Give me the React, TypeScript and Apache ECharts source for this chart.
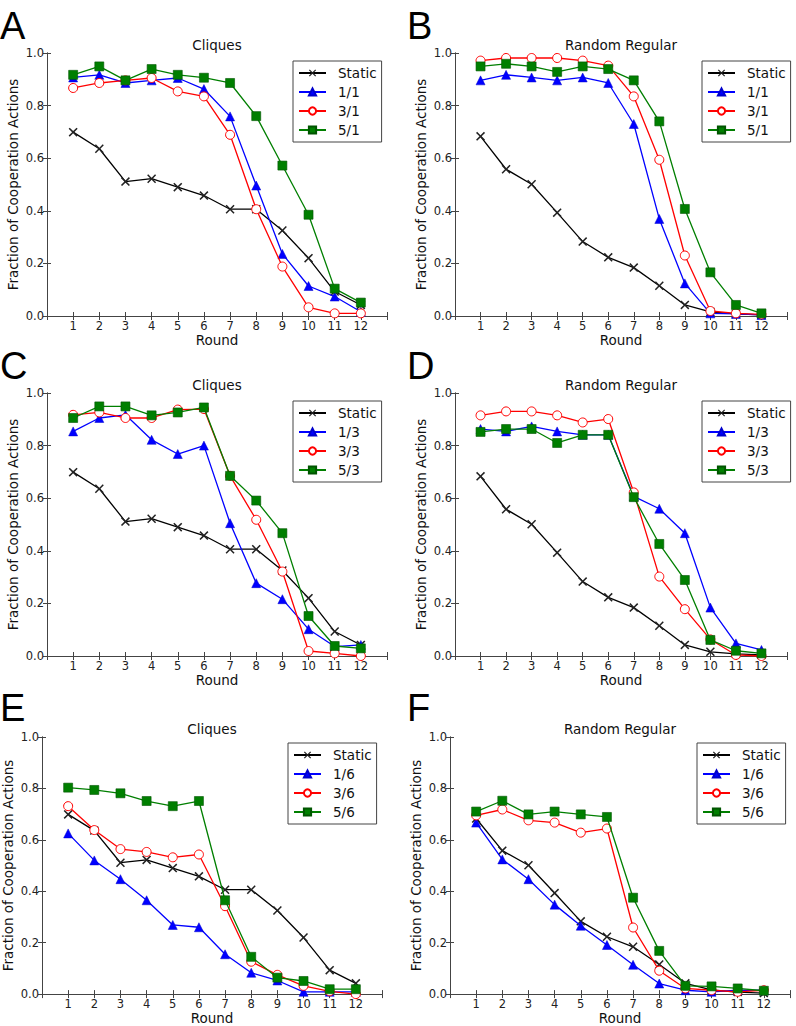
import React, { useEffect, useRef } from "react";
import * as echarts from "echarts";

const rounds = [1, 2, 3, 4, 5, 6, 7, 8, 9, 10, 11, 12];
const yTicks = [0, 0.2, 0.4, 0.6, 0.8, 1.0];

const cliquesStatic = [0.699, 0.636, 0.511, 0.522, 0.49, 0.458, 0.406, 0.406, 0.325, 0.22, 0.093, 0.042];
const regularStatic = [0.683, 0.558, 0.501, 0.393, 0.283, 0.223, 0.184, 0.115, 0.042, 0.016, 0.008, 0.004];

const a11 = [0.907, 0.917, 0.886, 0.896, 0.905, 0.863, 0.759, 0.496, 0.236, 0.114, 0.074, 0.016];
const a31 = [0.867, 0.886, 0.896, 0.905, 0.854, 0.835, 0.689, 0.406, 0.188, 0.033, 0.01, 0.01];
const a51 = [0.917, 0.949, 0.896, 0.939, 0.917, 0.906, 0.886, 0.76, 0.572, 0.385, 0.104, 0.051];

const b11 = [0.896, 0.917, 0.907, 0.896, 0.907, 0.886, 0.73, 0.369, 0.124, 0.01, 0.008, 0.004];
const b31 = [0.971, 0.981, 0.981, 0.981, 0.971, 0.952, 0.835, 0.594, 0.23, 0.019, 0.01, 0.006];
const b51 = [0.949, 0.959, 0.949, 0.928, 0.949, 0.939, 0.896, 0.74, 0.407, 0.166, 0.042, 0.01];

const c13 = [0.854, 0.905, 0.917, 0.822, 0.768, 0.8, 0.505, 0.277, 0.216, 0.102, 0.036, 0.042];
const c33 = [0.917, 0.926, 0.905, 0.905, 0.937, 0.939, 0.685, 0.518, 0.321, 0.019, 0.01, 0.0];
const c53 = [0.905, 0.949, 0.949, 0.915, 0.926, 0.945, 0.685, 0.591, 0.467, 0.152, 0.038, 0.029];

const d13 = [0.863, 0.854, 0.873, 0.854, 0.841, 0.841, 0.607, 0.56, 0.467, 0.184, 0.048, 0.023];
const d33 = [0.915, 0.93, 0.93, 0.915, 0.888, 0.901, 0.622, 0.302, 0.178, 0.063, 0.004, 0.0];
const d53 = [0.852, 0.863, 0.863, 0.81, 0.841, 0.841, 0.604, 0.426, 0.289, 0.061, 0.02, 0.01];

const e16 = [0.625, 0.52, 0.447, 0.365, 0.269, 0.26, 0.155, 0.083, 0.053, 0.009, 0.009, 0.009];
const e36 = [0.731, 0.638, 0.564, 0.553, 0.532, 0.543, 0.342, 0.126, 0.075, 0.032, 0.011, 0.0];
const e56 = [0.803, 0.794, 0.781, 0.751, 0.731, 0.751, 0.365, 0.145, 0.064, 0.051, 0.019, 0.019];

const f16 = [0.667, 0.524, 0.447, 0.348, 0.266, 0.191, 0.114, 0.041, 0.015, 0.009, 0.015, 0.015];
const f36 = [0.695, 0.718, 0.676, 0.667, 0.628, 0.644, 0.259, 0.091, 0.022, 0.015, 0.009, 0.015];
const f56 = [0.71, 0.752, 0.699, 0.71, 0.699, 0.689, 0.375, 0.168, 0.032, 0.03, 0.022, 0.013];

const panelLetters = ["A", "B", "C", "D", "E", "F"];
const panelTitles = ["Cliques", "Random Regular", "Cliques", "Random Regular", "Cliques", "Random Regular"];
const seriesNames = [
  ["Static", "1/1", "3/1", "5/1"],
  ["Static", "1/1", "3/1", "5/1"],
  ["Static", "1/3", "3/3", "5/3"],
  ["Static", "1/3", "3/3", "5/3"],
  ["Static", "1/6", "3/6", "5/6"],
  ["Static", "1/6", "3/6", "5/6"],
];
const seriesValues = [
  [cliquesStatic, a11, a31, a51],
  [regularStatic, b11, b31, b51],
  [cliquesStatic, c13, c33, c53],
  [regularStatic, d13, d33, d53],
  [cliquesStatic, e16, e36, e56],
  [regularStatic, f16, f36, f56],
];

// layout (pixels)
const grids = [
  { left: 47, top: 53, width: 340, height: 263 },
  { left: 455, top: 53, width: 332, height: 263 },
  { left: 47, top: 393, width: 340, height: 263 },
  { left: 455, top: 393, width: 332, height: 263 },
  { left: 42, top: 737, width: 340, height: 262 },
  { left: 450, top: 737, width: 340, height: 262 },
];
const legendPos = [
  { left: 293, top: 61 },
  { left: 702, top: 61 },
  { left: 293, top: 401 },
  { left: 702, top: 401 },
  { left: 288, top: 743 },
  { left: 697, top: 743 },
];
const letterPos = [
  { x: 0, y: 7 },
  { x: 407, y: 7 },
  { x: 0, y: 347 },
  { x: 407, y: 347 },
  { x: 0, y: 689 },
  { x: 407, y: 689 },
];

const FONT = "DejaVu Sans";
const FRAME = "#444";
const XMARK = "path://M0,1.2L1.2,0L5,3.8L8.8,0L10,1.2L6.2,5L10,8.8L8.8,10L5,6.2L1.2,10L0,8.8L3.8,5Z";

const styles = [
  { color: "#000000", symbol: XMARK, fill: "#222222", border: "#222222", size: 9, bw: 0 },
  { color: "#0000ff", symbol: "triangle", fill: "#0000ff", border: "#0000cc", size: 9, bw: 0.5 },
  { color: "#ff0000", symbol: "circle", fill: "#ffffff", border: "#ff0000", size: 9, bw: 1 },
  { color: "#007f00", symbol: "rect", fill: "#007f00", border: "#005500", size: 9, bw: 0.6 },
];

export default function App() {
  const ref = useRef<HTMLDivElement>(null);
  useEffect(() => {
    if (!ref.current) return;
    const chart = echarts.init(ref.current, undefined, { renderer: "svg" });

    const xAxis: any[] = [];
    const yAxis: any[] = [];
    const series: any[] = [];
    const legend: any[] = [];
    const graphic: any[] = [];

    grids.forEach((g, i) => {
      const common = {
        gridIndex: i,
        type: "value",
        axisLine: { show: true, lineStyle: { color: FRAME, width: 1 } },
        axisTick: { show: true, inside: true, length: 4, lineStyle: { color: FRAME } },
        splitLine: { show: false },
      };
      xAxis.push({
        ...common,
        position: "bottom",
        min: 0,
        max: 13,
        interval: 1,
        name: "Round",
        nameLocation: "middle",
        nameGap: 15,
        nameTextStyle: { fontFamily: FONT, fontSize: 13.5, color: "#111" },
        axisLabel: {
          fontFamily: FONT,
          fontSize: 11.5,
          color: "#222",
          margin: 4,
          formatter: (v: number) => (v >= rounds[0] && v <= rounds[rounds.length - 1] ? String(v) : ""),
        },
      });
      xAxis.push({
        ...common,
        position: "top",
        min: 0,
        max: 13,
        interval: 1,
        axisLabel: { show: false },
      });
      yAxis.push({
        ...common,
        position: "left",
        min: yTicks[0],
        max: yTicks[yTicks.length - 1],
        interval: 0.2,
        name: "Fraction of Cooperation Actions",
        nameLocation: "middle",
        nameGap: 27,
        nameTextStyle: { fontFamily: FONT, fontSize: 13.5, color: "#111" },
        axisLabel: {
          fontFamily: FONT,
          fontSize: 11.5,
          color: "#222",
          margin: 3,
          formatter: (v: number) => v.toFixed(1),
        },
      });
      yAxis.push({
        ...common,
        position: "right",
        min: yTicks[0],
        max: yTicks[yTicks.length - 1],
        interval: 0.2,
        axisLabel: { show: false },
      });

      seriesNames[i].forEach((name, k) => {
        const st = styles[k];
        series.push({
          type: "line",
          name,
          xAxisIndex: 2 * i,
          yAxisIndex: 2 * i,
          data: rounds.map((r, j) => [r, seriesValues[i][k][j]]),
          symbol: st.symbol,
          symbolSize: st.size,
          showAllSymbol: true,
          clip: false,
          lineStyle: { color: st.color, width: 1.3 },
          itemStyle: { color: st.fill, borderColor: st.border, borderWidth: st.bw, opacity: 1 },
          emphasis: { disabled: true },
          z: 2 + k,
        });
      });

      legend.push({
        orient: "vertical",
        left: legendPos[i].left,
        top: legendPos[i].top,
        data: seriesNames[i],
        itemWidth: 27,
        itemHeight: 9,
        itemGap: 5,
        padding: [5, 5, 5, 5],
        borderColor: FRAME,
        borderWidth: 1,
        borderRadius: 0,
        backgroundColor: "#ffffff",
        selectedMode: false,
        textStyle: { fontFamily: FONT, fontSize: 13.5, color: "#111", padding: [0, 0, 0, 7] },
      });

      graphic.push({
        type: "text",
        left: letterPos[i].x,
        top: letterPos[i].y,
        style: { text: panelLetters[i], fontFamily: "Liberation Sans", fontSize: 38, fill: "#000" },
      });
      graphic.push({
        type: "text",
        x: g.left + g.width / 2,
        y: g.top - 8,
        style: {
          text: panelTitles[i],
          fontFamily: FONT,
          fontSize: 13.5,
          fill: "#111",
          align: "center",
          verticalAlign: "middle",
        },
      });
    });

    chart.setOption({
      animation: false,
      backgroundColor: "#ffffff",
      grid: grids.map((g) => ({ ...g, containLabel: false })),
      xAxis,
      yAxis,
      series,
      legend,
      graphic,
    });
    return () => chart.dispose();
  }, []);
  return (
    <div
      ref={ref}
      style={{ position: "absolute", left: 0, top: 0, width: 796, height: 1026, background: "#fff" }}
    />
  );
}
